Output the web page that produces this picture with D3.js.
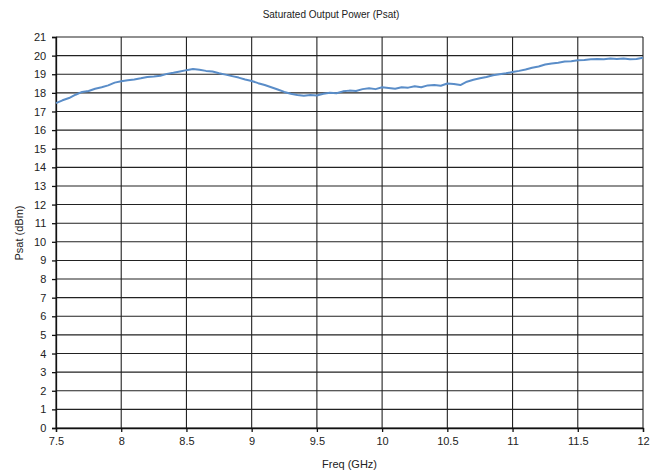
<!DOCTYPE html>
<html>
<head>
<meta charset="utf-8">
<script src="https://cdn.jsdelivr.net/npm/d3@7"></script>
<style>
  body { margin: 0; background: #fff; }
  svg text { font-family: "Liberation Sans", Arial, sans-serif; fill: #222; }
</style>
</head>
<body>
<svg id="chart" width="665" height="473"></svg>
<script>
// frequency (GHz) and Psat (dBm)
const freq = [7.50, 7.55, 7.60, 7.65, 7.70, 7.75, 7.80, 7.85, 7.90, 7.95,
  8.00, 8.05, 8.10, 8.15, 8.20, 8.25, 8.30, 8.35, 8.40, 8.45,
  8.50, 8.55, 8.60, 8.65, 8.70, 8.75, 8.80, 8.85, 8.90, 8.95,
  9.00, 9.05, 9.10, 9.15, 9.20, 9.25, 9.30, 9.35, 9.40, 9.45,
  9.50, 9.55, 9.60, 9.65, 9.70, 9.75, 9.80, 9.85, 9.90, 9.95,
  10.00, 10.05, 10.10, 10.15, 10.20, 10.25, 10.30, 10.35, 10.40, 10.45,
  10.50, 10.55, 10.60, 10.65, 10.70, 10.75, 10.80, 10.85, 10.90, 10.95,
  11.00, 11.05, 11.10, 11.15, 11.20, 11.25, 11.30, 11.35, 11.40, 11.45,
  11.50, 11.55, 11.60, 11.65, 11.70, 11.75, 11.80, 11.85, 11.90, 11.95, 12.00];
const psat = [17.45, 17.60, 17.72, 17.90, 18.05, 18.10, 18.22, 18.30, 18.40, 18.55,
  18.62, 18.68, 18.72, 18.78, 18.85, 18.88, 18.92, 19.02, 19.08, 19.15,
  19.22, 19.28, 19.24, 19.18, 19.15, 19.05, 18.98, 18.90, 18.82, 18.72,
  18.64, 18.52, 18.42, 18.30, 18.18, 18.05, 17.95, 17.88, 17.84, 17.88,
  17.86, 17.95, 18.00, 17.98, 18.08, 18.12, 18.10, 18.20, 18.25, 18.20,
  18.30, 18.26, 18.22, 18.30, 18.28, 18.36, 18.30, 18.40, 18.42, 18.38,
  18.50, 18.48, 18.42, 18.60, 18.70, 18.78, 18.85, 18.95, 19.00, 19.05,
  19.12, 19.18, 19.25, 19.35, 19.42, 19.52, 19.58, 19.62, 19.68, 19.70,
  19.75, 19.76, 19.80, 19.82, 19.80, 19.84, 19.82, 19.85, 19.80, 19.82, 19.88];

const xTicks = [7.5, 8, 8.5, 9, 9.5, 10, 10.5, 11, 11.5, 12];
const yTicks = d3.range(0, 22);

const svg = d3.select("#chart");
const margin = { top: 37, right: 22, bottom: 45, left: 56 };
const width = +svg.attr("width") - margin.left - margin.right;
const height = +svg.attr("height") - margin.top - margin.bottom;

const g = svg.append("g")
  .attr("transform", `translate(${margin.left},${margin.top})`);

const x = d3.scaleLinear().domain([7.5, 12]).range([0, width]);
const y = d3.scaleLinear().domain([0, 21]).range([height, 0]);

// grid lines
g.append("g")
  .selectAll("line")
  .data(yTicks)
  .join("line")
  .attr("x1", 0)
  .attr("x2", width)
  .attr("y1", d => y(d))
  .attr("y2", d => y(d))
  .attr("stroke", "#222")
  .attr("stroke-width", 1.1);

g.append("g")
  .selectAll("line")
  .data(xTicks)
  .join("line")
  .attr("x1", d => x(d))
  .attr("x2", d => x(d))
  .attr("y1", 0)
  .attr("y2", height)
  .attr("stroke", "#222")
  .attr("stroke-width", 1.1);

// axes
const xAxis = g.append("g")
  .attr("transform", `translate(0,${height})`)
  .call(d3.axisBottom(x).tickValues(xTicks).tickFormat(d3.format("")).tickSizeOuter(0).tickSize(4));

const yAxis = g.append("g")
  .call(d3.axisLeft(y).tickValues(yTicks).tickSizeOuter(0).tickSize(4));

[xAxis, yAxis].forEach(a => {
  a.selectAll("path, line").attr("stroke", "#111").attr("stroke-width", 1.3);
  a.selectAll("text").style("font-size", "11px").attr("fill", "#222");
});
xAxis.selectAll("text").attr("dy", "0.9em");
yAxis.selectAll("text").attr("dx", "-0.25em");

// data line
g.append("path")
  .datum(freq.map((f, i) => [f, psat[i]]))
  .attr("fill", "none")
  .attr("stroke", "#5a8dc8")
  .attr("stroke-width", 2)
  .attr("stroke-linejoin", "round")
  .attr("d", d3.line().x(d => x(d[0])).y(d => y(d[1])));

// titles
svg.append("text")
  .attr("x", 331)
  .attr("y", 18)
  .attr("text-anchor", "middle")
  .style("font-size", "10px")
  .text("Saturated Output Power (Psat)");

svg.append("text")
  .attr("x", margin.left + width / 2)
  .attr("y", 468)
  .attr("text-anchor", "middle")
  .style("font-size", "11px")
  .text("Freq (GHz)");

svg.append("text")
  .attr("transform", "rotate(-90)")
  .attr("x", -233)
  .attr("y", 23)
  .attr("text-anchor", "middle")
  .style("font-size", "11px")
  .text("Psat (dBm)");
</script>
</body>
</html>
